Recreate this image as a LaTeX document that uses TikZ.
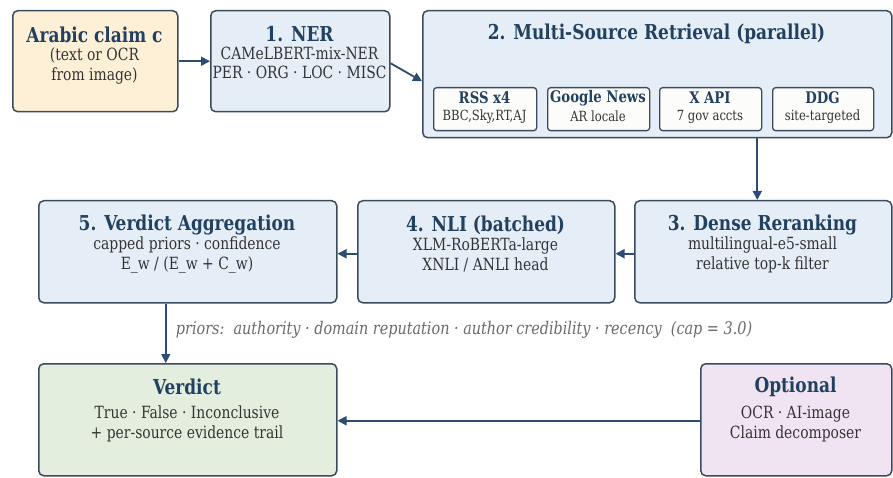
\documentclass[tikz,border=0pt]{standalone}
\usepackage{fontspec}
\setmainfont{DejaVu Serif Condensed}[FakeStretch=0.92]
\usetikzlibrary{arrows.meta}

\definecolor{edge}{HTML}{3A4B5D}
\definecolor{ttl}{HTML}{22405F}
\definecolor{body}{HTML}{333333}
\definecolor{arrowc}{HTML}{2B4D74}
\definecolor{fillblue}{HTML}{E5EEF7}
\definecolor{fillclaim}{HTML}{FDF0D6}
\definecolor{fillgreen}{HTML}{E3EEDF}
\definecolor{fillpurple}{HTML}{F0E4F3}
\definecolor{fillsub}{HTML}{FCFCFA}
\definecolor{notec}{HTML}{6A6A6A}

\tikzset{
  box/.style={draw=edge, line width=1.5pt, rounded corners=5pt, inner sep=0pt, anchor=north west},
  subbox/.style={draw=edge, line width=1.3pt, rounded corners=3pt, fill=fillsub, inner sep=0pt, anchor=north west},
  ttltext/.style={text=ttl, font=\fontsize{20.5}{22}\selectfont\bfseries, inner sep=0pt},
  bodytext/.style={text=body, font=\fontsize{16.8}{19.5}\selectfont, align=center, inner sep=0pt},
  subttl/.style={text=ttl, font=\fontsize{16}{17}\selectfont\bfseries, inner sep=0pt},
  subbody/.style={text=body, font=\fontsize{14}{15}\selectfont, inner sep=0pt},
  arr/.style={draw=arrowc, line width=1.8pt, -{Triangle[length=9pt,width=9pt]}},
  notetext/.style={text=notec, font=\fontsize{17.4}{18}\selectfont\itshape, inner sep=0pt}
}

\begin{document}
\begin{tikzpicture}[x=1pt,y=-1pt]
\useasboundingbox (0,0) rectangle (893,478);

% main boxes
\node[box, fill=fillclaim, minimum width=165pt, minimum height=101pt] (claim) at (12,10) {};
\node[box, fill=fillblue, minimum width=179pt, minimum height=101pt] (ner) at (210,10) {};
\node[box, fill=fillblue, minimum width=469pt, minimum height=127pt] (ret) at (422,10) {};

\node[box, fill=fillblue, minimum width=298pt, minimum height=102pt] (agg) at (38,200) {};
\node[box, fill=fillblue, minimum width=257pt, minimum height=102pt] (nli) at (357,200) {};
\node[box, fill=fillblue, minimum width=257pt, minimum height=102pt] (rerank) at (634,200) {};

\node[box, fill=fillgreen, minimum width=298pt, minimum height=112pt] (verdict) at (38,363) {};
\node[box, fill=fillpurple, minimum width=191pt, minimum height=112pt] (optional) at (700,363) {};

% retrieval sources
\node[subbox, minimum width=103pt, minimum height=43pt] (rss) at (433,87) {};
\node[subbox, minimum width=102pt, minimum height=43pt] (gnews) at (547,87) {};
\node[subbox, minimum width=102pt, minimum height=43pt] (xapi) at (659,87) {};
\node[subbox, minimum width=101pt, minimum height=43pt] (ddg) at (772,87) {};

% texts
\node[ttltext] (claimT) at (94.5,35) {Arabic claim c};
\node[bodytext] (claimB) at (94.5,66) {(text or OCR\\from image)};

\node[ttltext] (nerT) at (299.5,34) {1. NER};
\node[bodytext] (nerB) at (299.5,63) {CAMeLBERT-mix-NER\\PER · ORG · LOC · MISC};

\node[ttltext] (retT) at (656.5,34) {2. Multi-Source Retrieval (parallel)};

\node[subttl] (rssT) at (484.5,98) {RSS x4};
\node[subbody] (rssB) at (484.5,116.5) {BBC,Sky,RT,AJ};
\node[subttl] (gnewsT) at (598,98) {Google News};
\node[subbody] (gnewsB) at (598,116.5) {AR locale};
\node[subttl] (xapiT) at (710,98) {X API};
\node[subbody] (xapiB) at (710,116.5) {7 gov accts};
\node[subttl] (ddgT) at (822.5,98) {DDG};
\node[subbody] (ddgB) at (822.5,116.5) {site-targeted};

\node[ttltext] (aggT) at (187,225) {5. Verdict Aggregation};
\node[bodytext] (aggB) at (187,255) {capped priors · confidence\\E\_w / (E\_w + C\_w)};

\node[ttltext] (nliT) at (485.5,225) {4. NLI (batched)};
\node[bodytext] (nliB) at (485.5,255) {XLM-RoBERTa-large\\XNLI / ANLI head};

\node[ttltext] (rerankT) at (762.5,225) {3. Dense Reranking};
\node[bodytext] (rerankB) at (762.5,255) {multilingual-e5-small\\relative top-k filter};

\node[ttltext] (verdictT) at (187,387) {Verdict};
\node[bodytext] (verdictB) at (187,424) {True · False · Inconclusive\\+ per-source evidence trail};

\node[ttltext] (optionalT) at (795.5,387) {Optional};
\node[bodytext] (optionalB) at (795.5,424) {OCR · AI-image\\Claim decomposer};

% connectors
\draw[arr] (claim.east) -- (ner.west);
\draw[arr] ([yshift=-2pt]ner.east) -- ([yshift=-7pt]ret.west);
\draw[arr] ([xshift=-6pt]rerank.north |- ret.south) -- ([xshift=-6pt]rerank.north);
\draw[arr] ([yshift=-2pt]rerank.west) -- ([yshift=-2pt]nli.east);
\draw[arr] ([yshift=-2pt]nli.west) -- ([yshift=-2pt]agg.east);
\draw[arr] ([xshift=-22pt]agg.south) -- ([xshift=-22pt]verdict.north);
\draw[arr] ([yshift=-1pt]optional.west) -- ([yshift=-1pt]verdict.east);

% note on the priors
\node[notetext] (priors) at (464,330) {priors:\ \ authority · domain reputation · author credibility · recency\ \ (cap = 3.0)};
\end{tikzpicture}
\end{document}
